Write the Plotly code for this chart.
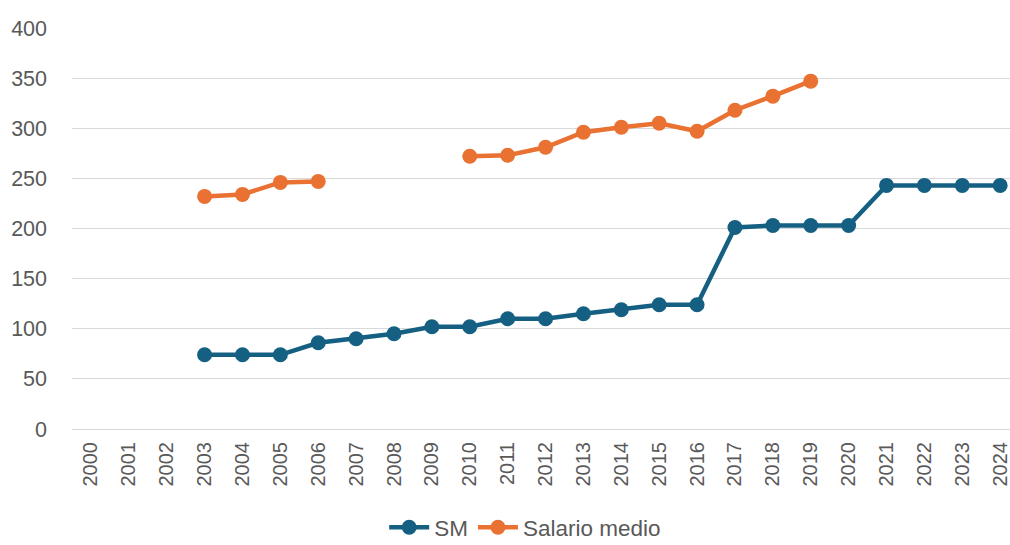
import plotly.graph_objects as go

years = [str(y) for y in range(2000, 2025)]
sm = [None, None, None, 74, 74, 74, 86, 90, 95, 102, 102, 110, 110, 115, 119, 124, 124,
      201, 203, 203, 203, 243, 243, 243, 243]
salario_medio = [None, None, None, 232, 234, 246, 247, None, None, None, 272, 273, 281, 296,
                 301, 305, 297, 318, 332, 347, None, None, None, None, None]

BLUE = "#156082"
ORANGE = "#E97132"
FONT = "Liberation Sans, Arial, sans-serif"
GREY = "#595959"

fig = go.Figure()
fig.add_trace(go.Scatter(x=years, y=sm, name="SM", mode="lines+markers",
                         line=dict(color=BLUE, width=4.5),
                         marker=dict(color=BLUE, size=15)))
fig.add_trace(go.Scatter(x=years, y=salario_medio, name="Salario medio", mode="lines+markers",
                         line=dict(color=ORANGE, width=4.5),
                         marker=dict(color=ORANGE, size=15)))

fig.update_layout(
    width=1010, height=545,
    margin=dict(l=72, r=0, t=28, b=116, autoexpand=False),
    plot_bgcolor="white", paper_bgcolor="white",
    font=dict(family=FONT, size=21, color=GREY),
    showlegend=True,
    legend=dict(orientation="h", x=0.52, xanchor="center", xref="container",
                y=0.032, yanchor="middle", yref="container",
                font=dict(size=22.5, color=GREY), itemwidth=40,
                bgcolor="rgba(0,0,0,0)"),
    xaxis=dict(type="category", range=[-0.5, 24.26], tickangle=-90, automargin=False,
               showgrid=False, showline=False, ticks="", ticklabelstandoff=8,
               tickfont=dict(size=20, color=GREY)),
    yaxis=dict(range=[0, 400], dtick=50, showgrid=True, gridcolor="#D9D9D9", gridwidth=1.3,
               zeroline=True, zerolinecolor="#D9D9D9", zerolinewidth=1.3, automargin=False,
               showline=False, ticks="", ticklabelstandoff=24,
               tickfont=dict(size=21.5, color=GREY)),
)

fig.write_html(
    "out.html",
    config={"displayModeBar": False},
    post_script="document.body.style.margin='0';document.body.style.overflow='hidden';",
)
